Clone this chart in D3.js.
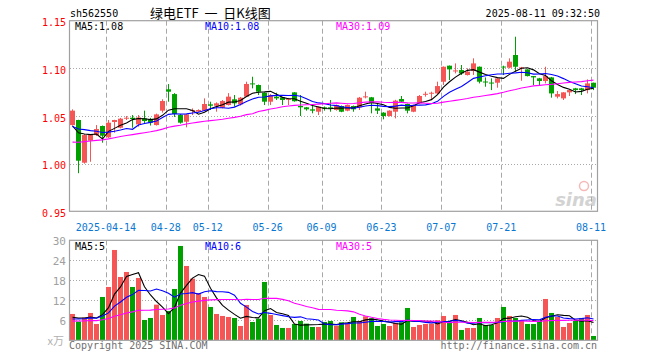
<!DOCTYPE html>
<html><head><meta charset="utf-8">
<script src="https://cdnjs.cloudflare.com/ajax/libs/d3/7.8.5/d3.min.js"></script>
<style>body{margin:0;background:#fff}svg{display:block}</style>
</head><body><svg id="c" width="660" height="360"></svg>
<script>
// ---------- data ----------
const dates = [
"2025-04-03","2025-04-07","2025-04-08","2025-04-09","2025-04-10","2025-04-11",
"2025-04-14","2025-04-15","2025-04-16","2025-04-17","2025-04-18",
"2025-04-21","2025-04-22","2025-04-23","2025-04-24","2025-04-25",
"2025-04-28","2025-04-29","2025-04-30",
"2025-05-06","2025-05-07","2025-05-08","2025-05-09",
"2025-05-12","2025-05-13","2025-05-14","2025-05-15","2025-05-16",
"2025-05-19","2025-05-20","2025-05-21","2025-05-22","2025-05-23",
"2025-05-26","2025-05-27","2025-05-28","2025-05-29","2025-05-30",
"2025-06-03","2025-06-04","2025-06-05","2025-06-06",
"2025-06-09","2025-06-10","2025-06-11","2025-06-12","2025-06-13",
"2025-06-16","2025-06-17","2025-06-18","2025-06-19","2025-06-20",
"2025-06-23","2025-06-24","2025-06-25","2025-06-26","2025-06-27",
"2025-06-30","2025-07-01","2025-07-02","2025-07-03","2025-07-04",
"2025-07-07","2025-07-08","2025-07-09","2025-07-10","2025-07-11",
"2025-07-14","2025-07-15","2025-07-16","2025-07-17","2025-07-18",
"2025-07-21","2025-07-22","2025-07-23","2025-07-24","2025-07-25",
"2025-07-28","2025-07-29","2025-07-30","2025-07-31","2025-08-01",
"2025-08-04","2025-08-05","2025-08-06","2025-08-07","2025-08-08",
"2025-08-11"];
const open = [1.0405,1.0458,1.001,1.0241,1.030,1.0395,1.0276,1.0437,1.0377,1.0478,1.0482,1.0412,1.0475,1.0458,1.0405,1.0556,1.0780,1.0730,1.051,1.0440,1.0556,1.0545,1.0556,1.0622,1.0608,1.0587,1.0615,1.0675,1.0622,1.0703,1.0842,1.0825,1.0744,1.0650,1.0703,1.0696,1.0670,1.0748,1.0605,1.0591,1.057,1.0545,1.0591,1.0591,1.0563,1.0605,1.0556,1.0605,1.0591,1.0700,1.0696,1.0580,1.0535,1.0500,1.0545,1.0678,1.0626,1.0545,1.0633,1.0727,1.0737,1.0737,1.0860,1.1028,1.0972,1.0982,1.0930,1.0972,1.1017,1.0862,1.0851,1.0849,1.1019,1.1007,1.1140,1.1007,1.0989,1.0919,1.0895,1.0867,1.0905,1.0703,1.0685,1.0748,1.0790,1.0790,1.0772,1.0849];
const high = [1.057,1.046,1.031,1.031,1.0405,1.040,1.0458,1.046,1.048,1.050,1.051,1.051,1.0556,1.048,1.0525,1.0675,1.0835,1.074,1.052,1.052,1.058,1.057,1.0685,1.065,1.0643,1.0668,1.074,1.072,1.070,1.086,1.0912,1.083,1.0748,1.073,1.0744,1.070,1.069,1.075,1.0720,1.0595,1.0615,1.060,1.060,1.0668,1.062,1.061,1.062,1.061,1.070,1.0755,1.070,1.0633,1.054,1.056,1.067,1.0710,1.063,1.062,1.072,1.0755,1.0755,1.0860,1.102,1.103,1.1052,1.1035,1.1000,1.1105,1.102,1.0905,1.0895,1.0897,1.1028,1.1105,1.1332,1.1015,1.099,1.092,1.090,1.1017,1.091,1.0762,1.075,1.0775,1.0795,1.0795,1.0884,1.085];
const low = [1.040,0.990,1.000,1.002,1.029,1.022,1.027,1.0325,1.037,1.0458,1.0377,1.0388,1.042,1.040,1.040,1.0535,1.0650,1.049,1.042,1.0381,1.051,1.054,1.055,1.0563,1.0545,1.058,1.061,1.0598,1.061,1.0700,1.0790,1.072,1.0615,1.0615,1.0668,1.0615,1.0615,1.065,1.0500,1.0556,1.0528,1.051,1.0556,1.0545,1.0556,1.054,1.055,1.0545,1.0563,1.0685,1.0528,1.0521,1.0465,1.0495,1.0475,1.0640,1.0528,1.054,1.063,1.0703,1.0668,1.073,1.0825,1.0877,1.0947,1.093,1.0925,1.0930,1.0842,1.0807,1.0772,1.0797,1.093,1.100,1.0965,1.087,1.0915,1.0825,1.0818,1.0842,1.0692,1.0685,1.0668,1.071,1.073,1.072,1.0737,1.0772];
const close = [1.0556,1.0031,1.030,1.0307,1.0363,1.0293,1.0430,1.0458,1.0472,1.0482,1.0468,1.0485,1.0447,1.0430,1.0517,1.0657,1.0755,1.0521,1.0430,1.0517,1.0563,1.0563,1.0626,1.0608,1.0633,1.0657,1.0703,1.0633,1.0692,1.0836,1.0832,1.0755,1.0650,1.0720,1.0685,1.0668,1.0680,1.0655,1.0591,1.0570,1.0556,1.0598,1.0577,1.0577,1.0615,1.0545,1.0615,1.0570,1.0692,1.0706,1.0633,1.0556,1.0500,1.0556,1.0661,1.0650,1.0556,1.0615,1.0710,1.0733,1.0744,1.0814,1.1017,1.0989,1.0978,1.0947,1.0965,1.1052,1.0860,1.0858,1.0847,1.0895,1.1014,1.1070,1.1017,1.1010,1.0919,1.0905,1.0867,1.0919,1.0737,1.0730,1.0748,1.0772,1.0772,1.0772,1.0842,1.0797];
// volume, unit: 万
const volume = [7.9,5.6,6.8,8.2,4.9,13.0,16.0,27.1,19.0,20.5,16.0,18.7,6.1,6.7,10.7,7.6,8.8,15.4,28.3,22.3,18.5,14.2,13.0,10.0,7.9,7.3,7.0,6.7,4.3,10.6,5.5,6.5,17.5,7.6,4.6,3.7,3.7,4.9,5.8,5.0,4.0,4.0,5.5,5.8,4.4,5.4,5.2,7.0,5.8,7.2,6.6,4.3,4.9,4.3,5.2,5.4,9.7,4.0,4.6,4.9,5.0,6.0,7.3,5.2,7.6,3.1,3.7,3.7,6.7,4.6,4.6,6.7,10.0,7.3,6.7,5.8,4.9,4.9,5.8,12.4,8.2,7.0,4.0,5.2,5.8,6.7,7.6,1.3];
// estimated sessions before the visible window (only feed the moving averages at the left edge)
const priorClose = [1.008,1.010,1.012,1.015,1.013,1.011,1.009,1.012,1.016,1.018,1.017,1.015,1.014,1.016,1.019,1.018,1.015,1.013,1.016,1.021,1.030,1.036,1.041,1.043,1.042,1.039,1.036,1.034,1.033];
const priorVolume = [5.0,5.4,5.2,5.8,5.5,4.9,5.3,5.6,5.9,5.2,5.0,5.5,5.7,5.4,5.1,5.6,6.0,5.3,5.5,5.8,5.9,5.8,5.6,6.0,6.2,6.8,6.6,6.7,6.5];

const priceTicks = [0.95,1.00,1.05,1.10,1.15];
const volTicks = [6,12,18,24,30];
const dateTicks = ["2025-04-14","2025-04-28","2025-05-12","2025-05-26","2025-06-09","2025-06-23","2025-07-07","2025-07-21","2025-08-11"];
const dateTickLabels = ["2025-04-14","04-28","05-12","05-26","06-09","06-23","07-07","07-21","08-11"];
const maPeriods = [5,10,30];
const maColors = ["#000000","#0000ff","#ff00ff"];

// ---------- layout ----------
const L = 70, R = 597;
const P_TOP = 20.7, P_BOT = 211.3;
const V_TOP = 240.3, V_BOT = 340.3;
const UP = "#f55555", DOWN = "#00a000";
const GRID = "#a8a8a8";
const MONO = "'DejaVu Sans Mono', monospace";

const svg = d3.select("#c");
const x = d3.scaleBand().domain(dates).range([L, R]).paddingInner(0).paddingOuter(0);
const yP = d3.scaleLinear().domain([0.95, 1.15]).range([P_BOT, P_TOP]);
const yV = d3.scaleLinear().domain([0, 30]).range([V_BOT, V_TOP]);
const xs = d => Math.round(x(d));

function movingAvg(series, prior, n) {
  const all = prior.concat(series);
  const off = prior.length;
  return series.map((_, i) => d3.mean(all.slice(off + i - n + 1, off + i + 1)));
}
const data = dates.map((d, i) => ({d, o: open[i], h: high[i], l: low[i], c: close[i], v: volume[i]}));

// clip paths
const defs = svg.append("defs");
defs.append("clipPath").attr("id", "cp").append("rect").attr("x", L).attr("y", P_TOP).attr("width", R - L).attr("height", P_BOT - P_TOP);
defs.append("clipPath").attr("id", "cv").append("rect").attr("x", L).attr("y", V_TOP).attr("width", R - L).attr("height", V_BOT - V_TOP);

// ---------- grids ----------
const g = svg.append("g");
dateTicks.forEach(d => {
  const gx = xs(d) + 0.5;
  [[P_TOP, P_BOT], [V_TOP, V_BOT]].forEach(([a, b]) => {
    g.append("line").attr("x1", gx).attr("x2", gx).attr("y1", a).attr("y2", b)
      .attr("stroke", GRID).attr("stroke-dasharray", "5,3");
  });
});
priceTicks.slice(1, -1).forEach(t => {
  const yy = Math.round(yP(t)) + 0.5;
  g.append("line").attr("x1", L).attr("x2", R).attr("y1", yy).attr("y2", yy)
    .attr("stroke", GRID).attr("stroke-dasharray", "1,2");
});
volTicks.slice(0, -1).forEach(t => {
  const yy = Math.round(yV(t)) + 0.5;
  g.append("line").attr("x1", L).attr("x2", R).attr("y1", yy).attr("y2", yy)
    .attr("stroke", GRID).attr("stroke-dasharray", "1,2");
});

// watermark
const wm = svg.append("g").attr("opacity", 0.55);
wm.append("circle").attr("cx", 584).attr("cy", 186).attr("r", 4.5).attr("fill", "none").attr("stroke", "#f08080").attr("stroke-width", 1.5);
wm.append("text").attr("x", 597).attr("y", 206).attr("text-anchor", "end")
  .attr("font-family", "'DejaVu Sans', sans-serif").attr("font-style", "italic").attr("font-weight", "bold")
  .attr("font-size", 18).attr("fill", "#b0b0b0").text("sina");

// ---------- candles ----------
const cg = svg.append("g").attr("clip-path", "url(#cp)");
cg.selectAll("line.w").data(data).join("line")
  .attr("x1", d => xs(d.d) + 2.5).attr("x2", d => xs(d.d) + 2.5)
  .attr("y1", d => yP(d.h)).attr("y2", d => yP(d.l))
  .attr("stroke", d => d.c >= d.o ? UP : DOWN).attr("stroke-width", 1);
cg.selectAll("rect.b").data(data).join("rect")
  .attr("x", d => xs(d.d)).attr("width", 5)
  .attr("y", d => yP(Math.max(d.o, d.c)))
  .attr("height", d => Math.max(1, Math.abs(yP(d.o) - yP(d.c))))
  .attr("fill", d => d.c >= d.o ? UP : DOWN);

// ---------- volume ----------
const vg = svg.append("g").attr("clip-path", "url(#cv)");
vg.selectAll("rect").data(data).join("rect")
  .attr("x", d => xs(d.d)).attr("width", 5)
  .attr("y", d => yV(d.v)).attr("height", d => yV(0) - yV(d.v))
  .attr("fill", d => d.c >= d.o ? UP : DOWN);

// ---------- moving averages ----------
const priceMA = maPeriods.map(n => movingAvg(close, priorClose, n));
const volMA = maPeriods.map(n => movingAvg(volume, priorVolume, n));
const lineP = d3.line().x((v, i) => xs(dates[i]) + 2.5).y(v => yP(v));
const lineV = d3.line().x((v, i) => xs(dates[i]) + 2.5).y(v => yV(v));
priceMA.forEach((arr, k) => cg.append("path").attr("d", lineP(arr)).attr("fill", "none").attr("stroke", maColors[k]).attr("stroke-width", 1.1));
volMA.forEach((arr, k) => vg.append("path").attr("d", lineV(arr)).attr("fill", "none").attr("stroke", maColors[k]).attr("stroke-width", 1.1));

// ---------- frames ----------
svg.append("rect").attr("x", L - 0.5).attr("y", P_TOP).attr("width", R - L + 1).attr("height", P_BOT - P_TOP)
  .attr("fill", "none").attr("stroke", "#a0a0a0").attr("stroke-width", 1.2);
svg.append("rect").attr("x", L - 0.5).attr("y", V_TOP).attr("width", R - L + 1).attr("height", V_BOT - V_TOP)
  .attr("fill", "none").attr("stroke", "#a0a0a0").attr("stroke-width", 1.2);

// ---------- axes ----------
const ax1 = svg.append("g").attr("transform", `translate(${L},0)`)
  .call(d3.axisLeft(yP).tickValues(priceTicks).tickFormat(d3.format(".2f")).tickSize(0).tickPadding(4));
ax1.select(".domain").remove();
ax1.selectAll("text").attr("fill", "#ff0000").attr("font-size", 10).attr("font-family", MONO).attr("dy", "0.5em");

const ax2 = svg.append("g").attr("transform", `translate(${L},0)`)
  .call(d3.axisLeft(yV).tickValues(volTicks).tickFormat(d3.format("d")).tickSize(0).tickPadding(4));
ax2.select(".domain").remove();
ax2.selectAll("text").attr("fill", "#a0a0a0").attr("font-size", 11).attr("font-family", MONO).attr("dy", "0.4em");
svg.append("text").attr("x", 64).attr("y", 345).attr("text-anchor", "end").attr("fill", "#b0b0b0")
  .attr("font-size", 11).attr("font-family", "'Noto Sans CJK SC', sans-serif").text("x万");

const ax3 = svg.append("g").attr("transform", `translate(-3,${P_BOT})`)
  .call(d3.axisBottom(x).tickValues(dateTicks).tickFormat(d => dateTickLabels[dateTicks.indexOf(d)]).tickSize(0).tickPadding(13));
ax3.select(".domain").remove();
ax3.selectAll("text").attr("fill", "#0a78d2").attr("font-size", 10).attr("font-family", MONO);

// ---------- texts ----------
function txt(xp, yp, s, fill, opts = {}) {
  return svg.append("text").attr("x", xp).attr("y", yp).attr("fill", fill)
    .attr("font-size", opts.size || 10).attr("font-family", opts.font || MONO)
    .attr("text-anchor", opts.anchor || "start").style("white-space", "pre").text(s);
}
txt(70, 17, "sh562550", "#000");
txt(150, 18, "绿电ETF\u00a0\u00a0一\u00a0\u00a0日K线图", "#000", {size: 13, font: "'Noto Sans CJK SC', sans-serif"});
txt(600, 17, "2025-08-11 09:32:50", "#000", {anchor: "end"});

const legX = [75, 205, 336];
const last = a => a[a.length - 1];
maPeriods.forEach((n, k) => {
  txt(legX[k], 30, `MA${n}:${last(priceMA[k]).toFixed(2)}`, maColors[k]);
  txt(legX[k], 250, `MA${n}:${Math.floor(last(volMA[k]))}`, maColors[k]);
});
txt(69, 349, "Copyright 2025 SINA.COM", "#707070");
txt(597, 349, "http://finance.sina.com.cn", "#707070", {anchor: "end"});
</script>
</body></html>
